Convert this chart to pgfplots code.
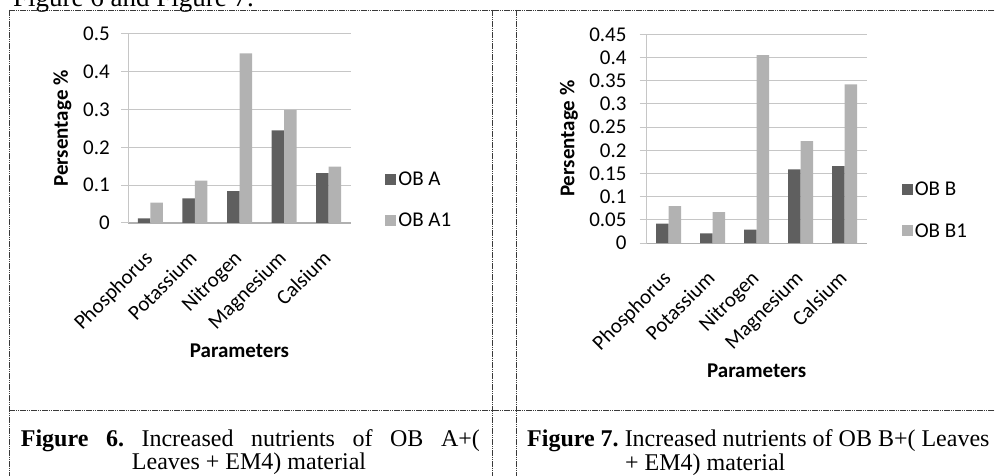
\documentclass[border=0pt]{standalone}
\usepackage{fontspec}
\setmainfont{Carlito}
\newfontfamily\capfont{Liberation Serif}
\usepackage{pgfplots}
\pgfplotsset{compat=1.18}

\definecolor{barA}{HTML}{5F5F5F}
\definecolor{barB}{HTML}{B2B2B2}
\definecolor{gridc}{HTML}{C6C6C6}
\definecolor{axisc}{HTML}{B0B0B0}
\definecolor{framec}{HTML}{3A3A3A}

\newcommand\chartfont{\fontsize{21}{21}\selectfont}
\newcommand\capsize{\capfont\frenchspacing\fontsize{24}{24}\selectfont}

\pgfplotsset{
  nutr/.style={
    scale only axis, anchor=south west,
    ybar=0pt, bar width=12.5pt,
    xmin=-0.5, xmax=4.5, ymin=0,
    xtick={0,...,4},
    xticklabels={Phosphorus,Potassium,Nitrogen,Magnesium,Calsium},
    axis x line*=bottom, axis y line*=left,
    axis line style={-},
    x axis line style={draw=axisc, line width=1.2pt},
    y axis line style={draw=gridc, line width=1pt},
    ymajorgrids, grid style={gridc, line width=1pt},
    xtick style={draw=none},
    ytick style={draw=gridc, line width=1pt},
    major tick length=7pt, tick align=outside,
    tick label style={font=\chartfont},
    /pgf/number format/assume math mode=true,
    yticklabel style={/pgf/number format/fixed, inner sep=0pt},
    xticklabel style={xshift=-7pt, yshift=-19pt, rotate=45, anchor=north east, inner sep=0pt},
    label style={font=\chartfont\bfseries},
    xlabel={Parameters},
    ylabel={Persentage \%},
    ylabel style={anchor=center, rotate=0},
    xlabel style={anchor=center},
    legend style={draw=none, fill=none, font=\chartfont, anchor=west,
      row sep=22pt, cells={anchor=west}},
    legend image code/.code={\fill[##1] (0pt,-5.5pt) rectangle (11pt,5.5pt);},
  }
}

\begin{document}
\begin{tikzpicture}
\useasboundingbox (0,0) rectangle (995pt,476pt);
\clip (0,0) rectangle (995pt,476pt);

% table frame
\begin{scope}[framec, line width=0.8pt, dash pattern=on 1.6pt off 0.6pt]
  \draw (9pt,466pt) -- (995pt,466pt);
  \draw (9pt,66pt) -- (995pt,66pt);
  \draw (9pt,466pt) -- (9pt,0pt);
  \draw (492.3pt,466pt) -- (492.3pt,0pt);
  \draw (516pt,466pt) -- (516pt,0pt);
\end{scope}

\node[anchor=base west, inner sep=0pt, font=\capfont\fontsize{27}{27}\selectfont]
  at (13pt,469.5pt) {Figure 6 and Figure 7.};

% Figure 6
\begin{axis}[nutr, at={(128pt,253pt)}, width=223pt, height=189pt,
    ymax=0.5, ytick={0,0.1,...,0.5},
    yticklabel style={xshift=-11pt},
    ylabel style={at={(axis description cs:-0.2937,0.5)}},
    xlabel style={at={(axis description cs:0.5,-0.677)}},
    legend style={at={(axis description cs:1.14,0.12)}}]
  \addplot[fill=barA, draw=none] coordinates
    {(0,0.012) (1,0.065) (2,0.084) (3,0.245) (4,0.132)};
  \addplot[fill=barB, draw=none] coordinates
    {(0,0.054) (1,0.112) (2,0.449) (3,0.299) (4,0.149)};
  \legend{OB A, OB A1}
\end{axis}

% Figure 7
\begin{axis}[nutr, at={(646.7pt,232.8pt)}, width=220pt, height=208.9pt,
    ymax=0.45, ytick={0,0.05,...,0.45},
    yticklabel style={/pgf/number format/precision=2, xshift=-13pt},
    ylabel style={at={(axis description cs:-0.3532,0.5)}},
    xlabel style={at={(axis description cs:0.5,-0.6103)}},
    legend style={at={(axis description cs:1.145,0.157)}}]
  \addplot[fill=barA, draw=none] coordinates
    {(0,0.042) (1,0.021) (2,0.029) (3,0.159) (4,0.166)};
  \addplot[fill=barB, draw=none] coordinates
    {(0,0.080) (1,0.067) (2,0.405) (3,0.220) (4,0.342)};
  \legend{OB B, OB B1}
\end{axis}

% captions
\node[anchor=base west, inner sep=0pt, font=\capsize] at (20.7pt,29.3pt)
  {\makebox[459pt][s]{\textbf{Figure 6.} Increased nutrients of OB A+(}};
\node[anchor=base, inner sep=0pt, font=\capsize] at (249pt,6.7pt)
  {Leaves + EM4) material};
\node[anchor=base west, inner sep=0pt, font=\capsize] at (527pt,29.3pt)
  {\textbf{Figure 7.} Increased nutrients of OB B+( Leaves};
\node[anchor=base west, inner sep=0pt, font=\capsize] at (625pt,5.3pt)
  {+ EM4) material};
\end{tikzpicture}
\end{document}
